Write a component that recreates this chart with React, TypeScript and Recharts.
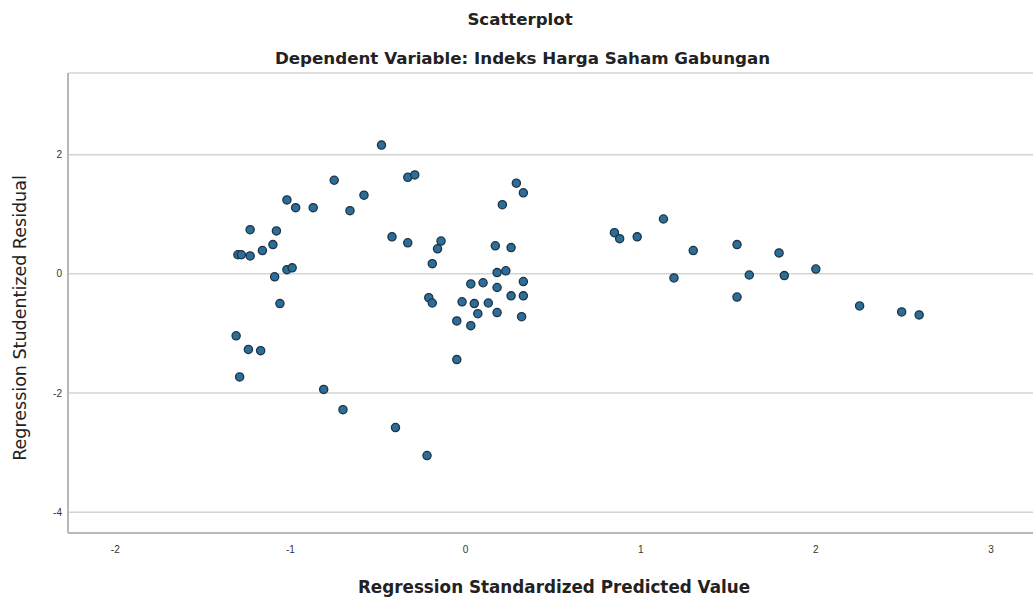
import React from 'react';
import {
    ScatterChart,
    Scatter,
    XAxis,
    YAxis,
    CartesianGrid,
} from 'recharts';

// Regression Standardized Predicted Value (x) vs Studentized Residual (y)
const predicted: number[] = [
    -0.48, -0.75, -0.33, -0.29, -0.58, -1.02, -0.97, -0.87, -0.66, -1.23,
    -1.08, -1.10, -1.16, -1.30, -1.28, -1.23, -1.09, -1.02, -0.99, -1.06,
    -1.31, -1.24, -1.17, -1.29, -0.81, -0.70, -0.40, -0.22,
    -0.42, -0.33, -0.14, -0.16, -0.19, -0.21, -0.19, -0.05, -0.05, -0.02,
    0.03, 0.05, 0.03, 0.10, 0.13, 0.07, 0.18, 0.18, 0.18, 0.23,
    0.17, 0.26, 0.21, 0.29, 0.33, 0.33, 0.26, 0.33, 0.32,
    1.13, 0.85, 0.88, 0.98, 1.30, 1.55, 1.79, 1.19, 1.62, 1.82,
    2.00, 1.55, 2.25, 2.49, 2.59,
];

const residual: number[] = [
    2.16, 1.57, 1.62, 1.66, 1.32, 1.24, 1.11, 1.11, 1.06, 0.74,
    0.72, 0.49, 0.39, 0.32, 0.32, 0.30, -0.05, 0.07, 0.10, -0.50,
    -1.04, -1.27, -1.29, -1.73, -1.94, -2.28, -2.58, -3.05,
    0.62, 0.52, 0.55, 0.42, 0.17, -0.40, -0.49, -0.79, -1.44, -0.47,
    -0.87, -0.50, -0.17, -0.15, -0.49, -0.67, -0.23, -0.65, 0.02, 0.05,
    0.47, 0.44, 1.16, 1.52, 1.36, -0.13, -0.37, -0.37, -0.72,
    0.92, 0.69, 0.59, 0.62, 0.39, 0.49, 0.35, -0.07, -0.02, -0.03,
    0.08, -0.39, -0.54, -0.64, -0.69,
];

const xTicks = [-2, -1, 0, 1, 2, 3];
const yTicks = [-4, -2, 0, 2];

const points = predicted.map((x, i) => ({ x, y: residual[i] }));

const tickFont = 'Arial, "Liberation Sans", sans-serif';
const labelFont = '"DejaVu Sans", Arial, sans-serif';

function Dot(props: any) {
    const { cx, cy } = props;
    return (
        <circle cx={cx} cy={cy} r={4.1} fill="#2d6d98" stroke="#1b3547" strokeWidth={1.3} />
    );
}

export default function App() {
    return (
        <div style={{ position: 'relative', width: 1035, height: 602, background: '#fff', fontFamily: labelFont }}>
            <style>{`body{margin:0}`}</style>
            <div style={{ position: 'absolute', left: 0, width: 1040, top: 10, lineHeight: '20px', textAlign: 'center', fontSize: 16.6, fontWeight: 'bold', color: '#222' }}>
                Scatterplot
            </div>
            <div style={{ position: 'absolute', left: 0, width: 1045, top: 48, lineHeight: '20px', textAlign: 'center', fontSize: 16.7, fontWeight: 'bold', color: '#222' }}>
                Dependent Variable: Indeks Harga Saham Gabungan
            </div>
            <ScatterChart
                width={1035}
                height={602}
                margin={{ top: 73, right: 2, left: 0, bottom: 0 }}
            >
                <CartesianGrid vertical={false} stroke="#d4d4d4" strokeWidth={1.5} />
                <XAxis
                    type="number"
                    dataKey="x"
                    domain={[-2.27, 3.24]}
                    ticks={xTicks}
                    allowDataOverflow
                    height={69}
                    tickLine={false}
                    tickMargin={7}
                    axisLine={{ stroke: '#b8b8b8', strokeWidth: 2 }}
                    tick={{ fontSize: 10, fill: '#333', fontFamily: tickFont }}
                />
                <YAxis
                    type="number"
                    dataKey="y"
                    domain={[-4.35, 3.37]}
                    ticks={yTicks}
                    allowDataOverflow
                    width={68}
                    tickLine={false}
                    tickMargin={0}
                    axisLine={{ stroke: '#b8b8b8', strokeWidth: 2 }}
                    tick={{ fontSize: 10, fill: '#333', fontFamily: tickFont }}
                />
                <Scatter data={points} shape={<Dot />} isAnimationActive={false} />
            </ScatterChart>
            <div style={{ position: 'absolute', left: 0, width: 1108, top: 577, lineHeight: '20px', textAlign: 'center', fontSize: 16.8, fontWeight: 'bold', color: '#222' }}>
                Regression Standardized Predicted Value
            </div>
            <div
                style={{
                    position: 'absolute',
                    left: 20,
                    top: 318,
                    transform: 'translate(-50%, -50%) rotate(-90deg)',
                    whiteSpace: 'nowrap',
                    lineHeight: '20px',
                    fontSize: 17.5,
                    color: '#222',
                }}
            >
                Regression Studentized Residual
            </div>
        </div>
    );
}
